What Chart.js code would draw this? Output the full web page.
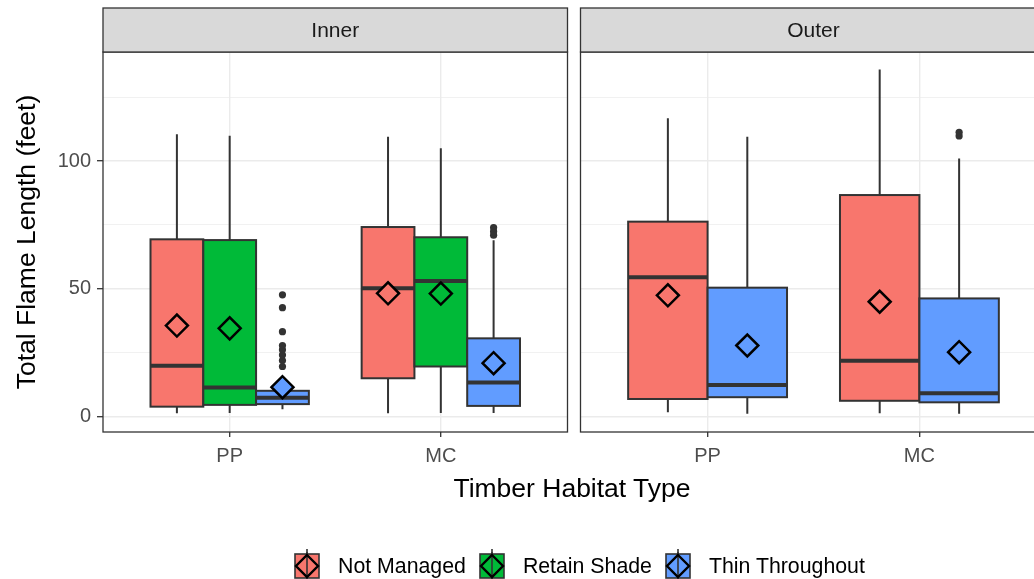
<!DOCTYPE html>
<html>
<head>
<meta charset="utf-8">
<script src="https://cdn.jsdelivr.net/npm/chart.js@4/dist/chart.umd.min.js"></script>
<style>
  html, body { margin:0; padding:0; background:#fff; overflow:hidden; width:1034px; height:579px; }
  canvas { position:absolute; top:0; }
  #xtitle { position:absolute; left:372px; width:400px; top:472px; text-align:center;
            font:26.5px "Liberation Sans", Arial, sans-serif; color:#000; line-height:32px; }
  #legend { position:absolute; left:294px; top:549px; display:flex; align-items:center;
            font:21.3px "Liberation Sans", Arial, sans-serif; color:#000; }
  #legend .item { display:flex; align-items:center; margin-right:13px; }
  #legend svg { margin-right:18px; }
</style>
</head>
<body>
<canvas id="inner" width="581" height="579" style="left:0"></canvas>
<canvas id="outer" width="493" height="579" style="left:567px"></canvas>
<div id="xtitle">Timber Habitat Type</div>
<div id="legend"></div>
<script>
(function(){

    var habitats = ['PP', 'MC'];
    var treatments = ['Not Managed', 'Retain Shade', 'Thin Throughout'];
    var colors = ['#F8766D', '#00BA38', '#619CFF'];

    // Inner panel - values per treatment, [PP, MC]
    var innerLow  = [[1.4, 1.4], [1.5, 1.5], [3.0, 1.5]];
    var innerQ1   = [[4.0, 15.1], [4.7, 19.7], [5.0, 4.3]];
    var innerMed  = [[20.0, 50.3], [11.5, 53.1], [7.5, 13.4]];
    var innerQ3   = [[69.4, 74.2], [69.1, 70.2], [10.2, 30.7]];
    var innerHigh = [[110.5, 109.5], [109.9, 105.0], [15.0, 69.0]];
    var innerMean = [[35.7, 48.3], [34.6, 48.2], [11.6, 21.0]];
    var innerOut  = [[[], []], [[], []],
                     [[19.7, 22.0, 24.2, 26.2, 27.9, 33.3, 42.7, 47.7], [71.0, 72.5, 74.0]]];

    // Outer panel - Not Managed and Thin Throughout only
    var outerTreat = [0, 2];
    var outerLow  = [[1.8, 1.4], [1.2, 1.2]];
    var outerQ1   = [[7.0, 6.3], [7.7, 5.7]];
    var outerMed  = [[54.6, 21.9], [12.5, 9.2]];
    var outerQ3   = [[76.3, 86.7], [50.5, 46.3]];
    var outerHigh = [[116.7, 135.8], [109.5, 101.0]];
    var outerMean = [[47.5, 45.0], [27.9, 25.3]];
    var outerOut  = [[[], []], [[], [109.8, 111.2]]];

    var yTicks = [0, 25, 50, 75, 100, 125];
    var FONT = '"Liberation Sans", Arial, sans-serif';

    // boxes, whiskers and medians through the chart scales
    var boxPlugin = {
        id: 'boxes',
        beforeDatasetsDraw: function(chart){
            var b = chart.options.plugins.boxes;
            var xs = chart.scales.x, ys = chart.scales.y, ctx = chart.ctx;
            var half = Math.abs(xs.getPixelForValue(b.width / 2) - xs.getPixelForValue(0));
            ctx.save();
            ctx.strokeStyle = '#333333';
            b.sets.forEach(function(s){
                for (var i = 0; i < habitats.length; i++) {
                    var cx = xs.getPixelForValue(i + 1 + s.offset);
                    var yl = ys.getPixelForValue(s.low[i]), y1 = ys.getPixelForValue(s.q1[i]);
                    var ym = ys.getPixelForValue(s.med[i]), y3 = ys.getPixelForValue(s.q3[i]);
                    var yh = ys.getPixelForValue(s.high[i]);
                    ctx.lineWidth = 2;
                    ctx.beginPath();
                    ctx.moveTo(cx, yl); ctx.lineTo(cx, y1);
                    ctx.moveTo(cx, y3); ctx.lineTo(cx, yh);
                    ctx.stroke();
                    ctx.fillStyle = s.color;
                    ctx.fillRect(cx - half, y3, half * 2, y1 - y3);
                    ctx.strokeRect(cx - half, y3, half * 2, y1 - y3);
                    ctx.lineWidth = 4;
                    ctx.beginPath();
                    ctx.moveTo(cx - half, ym); ctx.lineTo(cx + half, ym);
                    ctx.stroke();
                }
            });
            ctx.restore();
        },
        afterDatasetsDraw: function(chart){
            var a = chart.chartArea, ctx = chart.ctx;
            ctx.save();
            ctx.strokeStyle = '#333333';
            ctx.lineWidth = 1.3;
            ctx.strokeRect(a.left, a.top, a.right - a.left, a.bottom - a.top);
            // facet strip
            ctx.fillStyle = '#d9d9d9';
            ctx.fillRect(a.left, 8, a.right - a.left, a.top - 8);
            ctx.strokeRect(a.left, 8, a.right - a.left, a.top - 8);
            ctx.fillStyle = '#1a1a1a';
            ctx.font = '21px ' + FONT;
            ctx.textAlign = 'center';
            ctx.textBaseline = 'middle';
            ctx.fillText(chart.options.plugins.boxes.strip, (a.left + a.right) / 2, (8 + a.top) / 2 + 1);
            ctx.restore();
        }
    };

    function buildPanel(canvasId, strip, treatIdx, low, q1, med, q3, high, mean, outs, first, padRight, yWidth){
        var n = treatIdx.length;
        var width = 0.75 / n;
        var sets = [], datasets = [];
        treatIdx.forEach(function(t, k){
            var offset = -0.375 + width * (k + 0.5);
            sets.push({ color: colors[t], offset: offset, low: low[k], q1: q1[k],
                        med: med[k], q3: q3[k], high: high[k] });
            var pts = [];
            outs[k].forEach(function(list, i){
                list.forEach(function(v){ pts.push({ x: i + 1 + offset, y: v }); });
            });
            datasets.push({
                label: treatments[t] + ' outliers',
                data: pts,
                pointStyle: 'circle',
                pointRadius: 3.6,
                backgroundColor: '#333333',
                borderWidth: 0
            });
            datasets.push({
                label: treatments[t],
                data: mean[k].map(function(v, i){ return { x: i + 1 + offset, y: v }; }),
                pointStyle: 'rectRot',
                pointRadius: 11,
                backgroundColor: colors[t],
                borderColor: '#000000',
                borderWidth: 2.5
            });
        });

        return new Chart(document.getElementById(canvasId), {
            type: 'scatter',
            data: { datasets: datasets },
            options: {
                responsive: false,
                animation: false,
                events: [],
                layout: { padding: { top: 52, right: padRight, bottom: 107, left: 0 } },
                plugins: {
                    legend: { display: false },
                    tooltip: { enabled: false },
                    boxes: { sets: sets, width: width, strip: strip }
                },
                scales: {
                    x: {
                        type: 'linear', min: 0.4, max: 2.6,
                        afterBuildTicks: function(s){ s.ticks = [{ value: 1 }, { value: 2 }]; },
                        afterFit: function(s){ s.height = 40; },
                        ticks: {
                            callback: function(v){ return habitats[v - 1]; },
                            color: '#4d4d4d', font: { family: FONT, size: 20 }, padding: 7,
                            maxRotation: 0
                        },
                        grid: { color: '#ebebeb', lineWidth: 1.4, tickColor: '#333333',
                                tickLength: 5, tickWidth: 1.3 },
                        border: { display: false }
                    },
                    y: {
                        type: 'linear', min: -5.9, max: 142.6,
                        afterBuildTicks: function(s){ s.ticks = yTicks.map(function(v){ return { value: v }; }); },
                        afterFit: function(s){ s.width = yWidth; },
                        ticks: {
                            display: first,
                            callback: function(v){ return v % 50 === 0 ? String(v) : ''; },
                            color: '#4d4d4d', font: { family: FONT, size: 20 }, padding: 6
                        },
                        grid: {
                            color: '#ebebeb',
                            lineWidth: function(c){ return c.tick && c.tick.value % 50 === 0 ? 1.4 : 0.7; },
                            tickColor: function(c){ return first && c.tick && c.tick.value % 50 === 0 ? '#333333' : 'rgba(0,0,0,0)'; },
                            tickLength: 6, tickWidth: 1.3
                        },
                        border: { display: false },
                        title: {
                            display: first,
                            text: 'Total Flame Length (feet)',
                            color: '#000000',
                            font: { family: FONT, size: 26.5 },
                            padding: { top: 12, bottom: 0 }
                        }
                    }
                }
            },
            plugins: [boxPlugin]
        });
    }

    buildPanel('inner', 'Inner', [0, 1, 2], innerLow, innerQ1, innerMed, innerQ3, innerHigh,
               innerMean, innerOut, true, 0, 103);
    buildPanel('outer', 'Outer', outerTreat, outerLow, outerQ1, outerMed, outerQ3, outerHigh,
               outerMean, outerOut, false, 11, 6);

    // legend keys
    var legend = document.getElementById('legend');
    treatments.forEach(function(t, i){
        var item = document.createElement('div');
        item.className = 'item';
        item.innerHTML =
            '<svg width="26" height="34" viewBox="0 0 26 34">' +
            '<line x1="13" y1="0" x2="13" y2="34" stroke="#333" stroke-width="1.6"/>' +
            '<rect x="1" y="5" width="24" height="24" fill="' + colors[i] + '" stroke="#333" stroke-width="1.6"/>' +
            '<line x1="13" y1="3" x2="13" y2="31" stroke="#333" stroke-width="1.6"/>' +
            '<polygon points="13,6 24,17 13,28 2,17" fill="none" stroke="#000" stroke-width="2.4"/>' +
            '</svg><span>' + t + '</span>';
        legend.appendChild(item);
    });

})();
</script>
</body>
</html>
